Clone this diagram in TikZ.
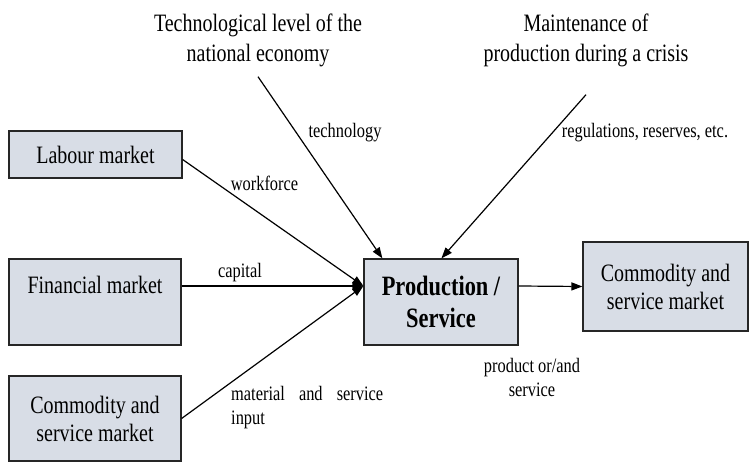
\documentclass[tikz,border=0pt]{standalone}
\usepackage{fontspec}
\setmainfont[FakeStretch=0.8]{Liberation Serif}
\usepackage{tikz}
\usetikzlibrary{arrows.meta}

\definecolor{marketfill}{HTML}{D8DDE6}

\tikzset{
	market/.style={draw=black!85, line width=1.2pt, fill=marketfill, align=center,
		inner sep=0pt, font=\fontsize{25}{28}\selectfont},
	driver/.style={align=center, inner sep=0pt, font=\fontsize{25}{30}\selectfont},
	flowlabel/.style={inner sep=0pt, font=\fontsize{20.5}{24}\selectfont},
	flow/.style={line width=1.2pt, -{Triangle[length=11pt,width=8pt]}}
}

\begin{document}
\begin{tikzpicture}[x=1pt,y=-1pt]
\useasboundingbox (0,0) rectangle (749,462);

% input markets
\node[market, minimum width=173pt, minimum height=47pt] (lab) at (95.5,154.5) {Labour market};
\node[market, minimum width=172pt, text height=34pt, text depth=52pt, anchor=base] (fin) at (95,293) {Financial market};
\node[market, minimum width=172pt, minimum height=85pt] (coml) at (95,418.5) {Commodity and\\service market};

% production and output market
\node[market, font=\bfseries\fontsize{28}{32}\selectfont, minimum width=154pt, minimum height=86pt] (prod) at (441,302) {Production /\\Service};
\node[market, minimum width=165pt, minimum height=89pt] (comr) at (665.5,286.5) {Commodity and\\service market};

% outside influences
\node[driver] (tech) at (258,40) {Technological level of the\\national economy};
\node[driver] (crisis) at (586,40) {Maintenance of\\production during a crisis};

\coordinate (in) at ([yshift=16pt]prod.west);

\draw[flow] ([yshift=-5pt]lab.east) -- (in);
\draw[flow] (fin.east |- in) -- (in);
\draw[flow] (coml.east) -- (in);
\draw[flow] ([yshift=-10pt]tech.south) -- ([xshift=19pt]prod.north west);
\draw[flow] ([yshift=-28pt]crisis.south) -- ([xshift=78pt]prod.north west);
\draw[flow] ([yshift=16pt]prod.east) -- (comr.west);

% flow labels
\node[flowlabel] (wf) at (264.5,183) {workforce};
\node[flowlabel] (cap) at (240,273) {capital};
\node[flowlabel] (techl) at (345,133) {technology};
\node[flowlabel] (regs) at (645,133) {regulations, reserves, etc.};
\node[flowlabel, anchor=north west, text width=152pt, align=left] (mat) at (231,386) {material\hfill and\hfill service\\input};
\node[flowlabel, align=center] (prodl) at (532,377) {product or/and\\service};
\end{tikzpicture}
\end{document}
